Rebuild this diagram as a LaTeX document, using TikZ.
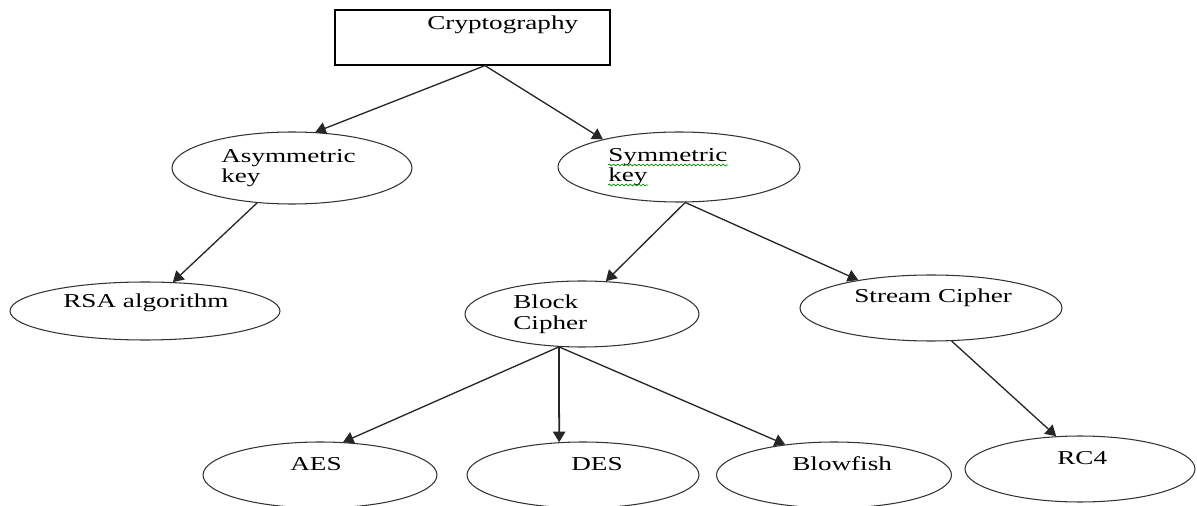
\documentclass[tikz,border=0pt]{standalone}
\usepackage{fontspec}
\setmainfont{Liberation Serif}
\usetikzlibrary{arrows.meta,calc,shapes.geometric,decorations.pathmorphing}
\newcommand{\wt}[1]{\scalebox{1.38}[1]{#1}}
\begin{document}
\begin{tikzpicture}[x=0.02cm,y=-0.02cm,
 oval/.style={ellipse, draw=black!80, line width=0.6pt, inner sep=0pt},
 box/.style={rectangle, draw=black, line width=0.7pt, inner sep=0pt, minimum width=5.5cm, minimum height=1.1cm},
 lbl/.style={anchor=base west, inner sep=0pt, font=\fontsize{11.2}{12}\selectfont, text=black},
 arr/.style={-{Triangle[length=6pt,width=7pt]}, line width=0.75pt, draw=black!85},
 spell/.style={draw=green!55!black, line width=0.4pt, decorate, decoration={snake, amplitude=0.5pt, segment length=2.4pt}}]
\useasboundingbox (0,0) rectangle (1197,506);
\fill[white] (0,0) rectangle (1197,506);

% shapes
\node[box] (crypto) at (472.5,37.5) {};
\node[oval, minimum width=4.8cm, minimum height=1.44cm] (asym) at (292,168) {};
\node[oval, minimum width=4.84cm, minimum height=1.40cm] (sym) at (679,167) {};
\node[oval, minimum width=5.4cm, minimum height=1.16cm] (rsa) at (145,311) {};
\node[oval, minimum width=4.68cm, minimum height=1.32cm] (block) at (582,314) {};
\node[oval, minimum width=5.24cm, minimum height=1.32cm] (stream) at (931,308) {};
\node[oval, minimum width=4.6cm, minimum height=1.32cm] (rc4) at (1080,469) {};
\node[oval, minimum width=4.7cm, minimum height=1.32cm] (blow) at (834,475) {};
\node[oval, minimum width=4.68cm, minimum height=1.32cm] (aes) at (320,475) {};
\node[oval, minimum width=4.64cm, minimum height=1.32cm] (des) at (583,475) {};

% labels
\node[lbl] (tcrypto) at (427,30) {\wt{Cryptography}};
\node[lbl] (tasym1) at (221,163) {\wt{Asymmetric}};
\node[lbl] (tasym2) at (221,183) {\wt{key}};
\node[lbl] (tsym1) at (608,162) {\wt{Symmetric}};
\node[lbl] (tsym2) at (608,182) {\wt{key}};
\node[lbl] (trsa) at (63,308) {\wt{RSA algorithm}};
\node[lbl] (tblock1) at (513,309) {\wt{Block}};
\node[lbl] (tblock2) at (513,330) {\wt{Cipher}};
\node[lbl] (tstream) at (854,303) {\wt{Stream Cipher}};
\node[lbl] (trc4) at (1057,464) {\wt{RC4}};
\node[lbl] (tblow) at (792,471) {\wt{Blowfish}};
\node[lbl] (taes) at (290,471) {\wt{AES}};
\node[lbl] (tdes) at (571,471) {\wt{DES}};

% spell-check underlines
\draw[spell] ($(tsym1.base west)+(0,3)$) -- ($(tsym1.base east)+(0,3)$);
\draw[spell] ($(tsym2.base west)+(0,3)$) -- ($(tsym2.base east)+(0,3)$);

% connectors
\draw[arr] ($(crypto.south)+(12.5,0)$) -- (asym.57);
\draw[arr] ($(crypto.south)+(12.5,0)$) -- (sym.160.7);
\draw[arr] (asym.225) -- (rsa.46);
\draw[arr] (sym.280) -- (block.54);
\draw[arr] (sym.280) -- (stream.159.3);
\draw[arr] (block.235) -- (aes.55);
\draw[arr, line width=1pt] (block.235) -- (des.126);
\draw[arr] (block.235) -- (blow.148.7);
\draw[arr] (stream.302.5) -- (rc4.126);
\end{tikzpicture}
\end{document}
